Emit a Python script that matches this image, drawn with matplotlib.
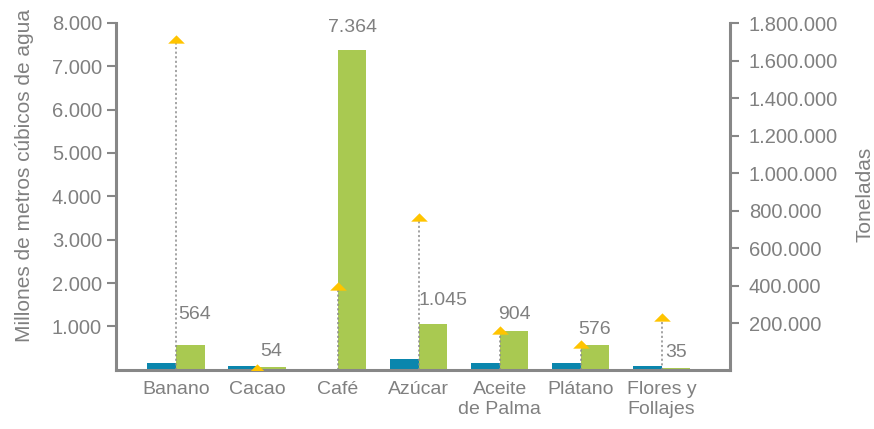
import numpy as np
import matplotlib
matplotlib.use("Agg")
import matplotlib.pyplot as plt
from matplotlib.path import Path
from matplotlib.ticker import FuncFormatter

# ── Data ───────────────────────────────────────────────────────────────────
CULTIVOS = ["Banano", "Cacao", "Café", "Azúcar", "Aceite\nde Palma",
            "Plátano", "Flores y\nFollajes"]
AGUA_VERDE = [564, 54, 7364, 1045, 904, 576, 35]        # millones de m³
AGUA_AZUL = [164, 88, 0, 249, 164, 164, 88]             # millones de m³
PRODUCCION = [1715000, -38000, 396000, 766000, 164000, 90600, 231000]  # t

# ── Style ──────────────────────────────────────────────────────────────────
GRIS = "#878787"
TEXTO = "#808080"
AZUL = "#0a86ad"
VERDE = "#a9c951"
AMARILLO = "#ffc400"

plt.rcParams["font.family"] = ["Liberation Sans", "DejaVu Sans"]

# label nudges (points) for the values crossed by the dotted guide lines
NUDGE = [(3, 11), (0, 0), (0, 5), (7, 6), (0, 0), (0, 0), (0, 0)]

TRI = Path([(-1, -0.5), (1, -0.5), (0, 0.5), (-1, -0.5)],
           [Path.MOVETO, Path.LINETO, Path.LINETO, Path.CLOSEPOLY])


def miles(v, _pos=None):
    return f"{v:,.0f}".replace(",", ".")


fig = plt.figure(figsize=(8.74, 4.29), dpi=100)
ax = fig.add_axes([0.1327, 0.138, 0.7025, 0.809])
ax2 = ax.twinx()

x = np.arange(len(CULTIVOS))
w = 0.353

ax.bar(x - w / 2, AGUA_AZUL, width=w, color=AZUL, zorder=2)
ax.bar(x + w / 2, AGUA_VERDE, width=w, color=VERDE, zorder=2)

for i, v in enumerate(AGUA_VERDE):
    dx, dy = NUDGE[i]
    ax.annotate(miles(v), (x[i] + w / 2, v), xytext=(dx, 8 + dy),
                textcoords="offset points", ha="center", va="baseline",
                fontsize=14, color=TEXTO, zorder=5)

ax.set_xlim(-0.742, 6.845)
ax.set_ylim(0, 8000)
ax.set_yticks(np.arange(1000, 8001, 1000))
ax.yaxis.set_major_formatter(FuncFormatter(miles))
ax.set_xticks(x)
ax.set_xticklabels(CULTIVOS, linespacing=1.2)

ax2.set_ylim(-48000, 1801600)
ax2.set_yticks(np.arange(200000, 1800001, 200000))
ax2.yaxis.set_major_formatter(FuncFormatter(miles))

# dotted guide lines from the base up to each production marker
y0 = ax2.get_ylim()[0]
ax2.vlines(x, y0, PRODUCCION, colors="#8c8c8c", linewidth=1.1,
           linestyles=(0, (1.4, 1.6)), zorder=3)
ax2.plot(x, PRODUCCION, linestyle="none", marker=TRI, markersize=12,
         color=AMARILLO, markeredgewidth=0, zorder=4)

for a in (ax, ax2):
    a.spines["top"].set_visible(False)
    for s in a.spines.values():
        s.set_color(GRIS)
        s.set_linewidth(2.2)
ax.spines["right"].set_visible(False)
ax2.spines["left"].set_visible(False)
ax2.spines["bottom"].set_visible(False)

ax.tick_params(axis="y", direction="out", length=6.5, width=1.5,
               color=GRIS, labelcolor=TEXTO, labelsize=14.5, pad=3.5)
ax.tick_params(axis="x", length=0, labelcolor=TEXTO, labelsize=14, pad=8)
ax2.tick_params(axis="y", direction="out", length=6.5, width=1.5,
                color=GRIS, labelcolor=TEXTO, labelsize=14.5, pad=7)

ax.set_ylabel("Millones de metros cúbicos de agua", fontsize=15,
              color=TEXTO, va="center")
ax.yaxis.set_label_coords(-0.1498, 0.561)
ax2.set_ylabel("Toneladas", fontsize=15, color=TEXTO, va="center")
ax2.yaxis.set_label_coords(1.2199, 0.506)

fig.savefig("out.png", dpi=100, facecolor="white")
